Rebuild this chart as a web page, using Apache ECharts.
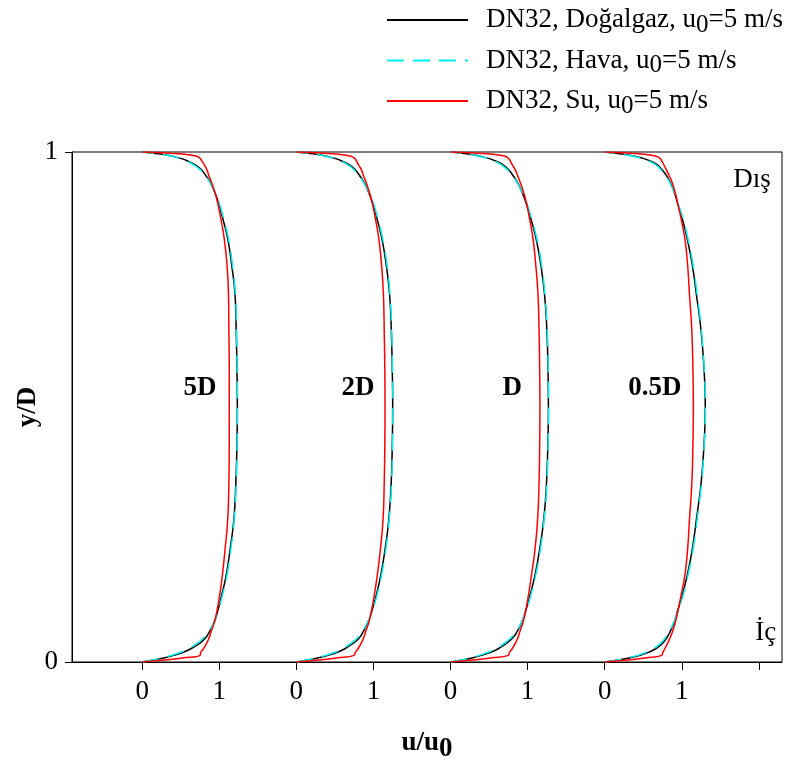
<!DOCTYPE html>
<html>
<head>
<meta charset="utf-8">
<script src="https://cdn.jsdelivr.net/npm/echarts@6/dist/echarts.min.js"></script>
<style>
html, body { margin: 0; padding: 0; background: #fff; }
#chart { width: 798px; height: 765px; }
</style>
</head>
<body>
<div id="chart"></div>
<script>
// y/D levels shared by every profile
var yLevels = [0, 0.004, 0.008, 0.013, 0.019, 0.026, 0.035, 0.046, 0.06, 0.08, 0.1, 0.13, 0.17, 0.22, 0.28, 0.35, 0.43, 0.5,
               0.57, 0.65, 0.72, 0.78, 0.83, 0.87, 0.9, 0.92, 0.94, 0.954, 0.965, 0.974, 0.981, 0.987, 0.992, 0.996, 1];

// stations and where each profile starts on the u/u0 axis
var stations = ['5D', '2D', 'D', '0.5D'];
var offsets = [0, 2, 4, 6];

// u/u0 at 5D
var gas5D   = [0, 0.15, 0.28, 0.41, 0.535, 0.63, 0.73, 0.815, 0.875, 0.94, 0.98, 1.03, 1.09, 1.14, 1.19, 1.215, 1.23, 1.235,
               1.23, 1.22, 1.205, 1.16, 1.11, 1.045, 0.99, 0.945, 0.885, 0.825, 0.77, 0.70, 0.61, 0.51, 0.38, 0.24, 0];
var air5D   = [0, 0.14, 0.26, 0.38, 0.50, 0.60, 0.70, 0.79, 0.865, 0.935, 0.985, 1.04, 1.10, 1.15, 1.195, 1.22, 1.232, 1.236,
               1.232, 1.225, 1.21, 1.17, 1.12, 1.055, 1.0, 0.95, 0.88, 0.815, 0.755, 0.68, 0.59, 0.49, 0.37, 0.23, 0];
var water5D = [0, 0.30, 0.52, 0.75, 0.76, 0.795, 0.83, 0.865, 0.895, 0.94, 0.97, 1.005, 1.04, 1.075, 1.11, 1.125, 1.13, 1.13,
               1.13, 1.125, 1.12, 1.10, 1.065, 1.02, 0.98, 0.945, 0.90, 0.865, 0.84, 0.81, 0.78, 0.755, 0.70, 0.52, 0];

// u/u0 at 2D
var gas2D   = [0, 0.15, 0.28, 0.41, 0.53, 0.63, 0.72, 0.81, 0.87, 0.935, 0.98, 1.035, 1.095, 1.15, 1.2, 1.23, 1.245, 1.25,
               1.245, 1.232, 1.21, 1.165, 1.11, 1.045, 0.99, 0.94, 0.88, 0.82, 0.765, 0.70, 0.61, 0.51, 0.38, 0.24, 0];
var air2D   = [0, 0.14, 0.26, 0.38, 0.50, 0.60, 0.695, 0.785, 0.86, 0.93, 0.985, 1.045, 1.105, 1.16, 1.205, 1.235, 1.247, 1.252,
               1.247, 1.237, 1.215, 1.175, 1.12, 1.055, 1.0, 0.945, 0.875, 0.81, 0.75, 0.68, 0.59, 0.49, 0.37, 0.23, 0];
var water2D = [0, 0.30, 0.52, 0.75, 0.765, 0.80, 0.835, 0.87, 0.90, 0.945, 0.975, 1.01, 1.05, 1.09, 1.125, 1.14, 1.148, 1.15,
               1.148, 1.14, 1.13, 1.105, 1.07, 1.025, 0.985, 0.95, 0.905, 0.87, 0.845, 0.81, 0.785, 0.76, 0.70, 0.52, 0];

// u/u0 at D
var gasD    = [0, 0.15, 0.28, 0.40, 0.52, 0.62, 0.71, 0.80, 0.865, 0.93, 0.975, 1.03, 1.095, 1.155, 1.21, 1.245, 1.263, 1.27,
               1.265, 1.25, 1.22, 1.17, 1.11, 1.04, 0.98, 0.93, 0.87, 0.81, 0.755, 0.69, 0.605, 0.505, 0.375, 0.235, 0];
var airD    = [0, 0.14, 0.26, 0.37, 0.49, 0.59, 0.685, 0.775, 0.855, 0.925, 0.98, 1.04, 1.105, 1.165, 1.215, 1.25, 1.266, 1.272,
               1.268, 1.255, 1.225, 1.18, 1.12, 1.05, 0.99, 0.935, 0.865, 0.80, 0.74, 0.67, 0.585, 0.485, 0.365, 0.225, 0];
var waterD  = [0, 0.30, 0.52, 0.75, 0.765, 0.80, 0.835, 0.87, 0.90, 0.945, 0.975, 1.01, 1.05, 1.095, 1.13, 1.148, 1.157, 1.16,
               1.157, 1.148, 1.135, 1.105, 1.07, 1.025, 0.985, 0.95, 0.905, 0.87, 0.84, 0.805, 0.78, 0.755, 0.70, 0.52, 0];

// u/u0 at 0.5D
var gas05D   = [0, 0.18, 0.32, 0.46, 0.57, 0.66, 0.74, 0.80, 0.85, 0.905, 0.945, 1.005, 1.07, 1.135, 1.19, 1.25, 1.29, 1.305,
                1.29, 1.25, 1.19, 1.135, 1.07, 1.005, 0.945, 0.905, 0.85, 0.80, 0.745, 0.69, 0.61, 0.51, 0.37, 0.22, 0];
var air05D   = [0, 0.17, 0.30, 0.43, 0.54, 0.63, 0.715, 0.78, 0.84, 0.90, 0.95, 1.015, 1.08, 1.145, 1.2, 1.255, 1.292, 1.307,
                1.292, 1.255, 1.2, 1.145, 1.08, 1.015, 0.95, 0.905, 0.845, 0.79, 0.73, 0.67, 0.59, 0.49, 0.36, 0.21, 0];
var water05D = [0, 0.30, 0.52, 0.74, 0.755, 0.78, 0.81, 0.845, 0.88, 0.92, 0.95, 0.99, 1.04, 1.075, 1.10, 1.13, 1.145, 1.15,
                1.145, 1.13, 1.10, 1.075, 1.04, 0.99, 0.945, 0.915, 0.875, 0.835, 0.80, 0.77, 0.745, 0.72, 0.66, 0.48, 0];

var gasProfiles = [gas5D, gas2D, gasD, gas05D];
var airProfiles = [air5D, air2D, airD, air05D];
var waterProfiles = [water5D, water2D, waterD, water05D];

var xTicks = [0, 1, 2, 3, 4, 5, 6, 7, 8];
var xLabels = [0, 1, 2, 3, 4, 5, 6, 7];

// text annotations, in data coordinates
var stationLabelX = [0.75, 2.80, 4.80, 6.65];
var stationLabelY = 0.537;
var sideLabels = [
    {text: 'Dış', x: 7.91, y: 0.945},
    {text: 'İç', x: 8.09, y: 0.057}
];

var FONT = '"Liberation Serif", "Times New Roman", serif';
var NAME_GAS = 'DN32, Doğalgaz, u0=5 m/s';
var NAME_AIR = 'DN32, Hava, u0=5 m/s';
var NAME_WATER = 'DN32, Su, u0=5 m/s';

var toPoints = function (u, offset) {
    var res = [];
    for (var i = 0; i < yLevels.length; i++) {
        res.push([offset + u[i], yLevels[i]]);
    }
    return res;
};

var makeSeries = function (name, profiles, color, type) {
    var list = [];
    for (var s = 0; s < stations.length; s++) {
        list.push({
            name: name,
            type: 'line',
            data: toPoints(profiles[s], offsets[s]),
            symbol: 'none',
            smooth: 0.5,
            lineStyle: {color: color, width: 1.5, type: type},
            itemStyle: {color: color}
        });
    }
    return list;
};

var chart = echarts.init(document.getElementById('chart'));

var series = []
    .concat(makeSeries(NAME_GAS, gasProfiles, '#000000', 'solid'))
    .concat(makeSeries(NAME_AIR, airProfiles, '#00f0f0', [17, 9]))
    .concat(makeSeries(NAME_WATER, waterProfiles, '#ff0000', 'solid'));

var option = {
    animation: false,
    backgroundColor: '#fff',
    grid: {
        left: 72, right: 16, top: 152, bottom: 103,
        outerBoundsMode: 'none',
        containLabel: false,
        show: true, borderColor: '#000', borderWidth: 1
    },
    legend: {
        data: [NAME_GAS, NAME_AIR, NAME_WATER],
        orient: 'vertical',
        left: 386,
        top: 5,
        padding: 0,
        itemWidth: 81,
        itemHeight: 14,
        itemGap: 8,
        itemStyle: {opacity: 0},
        formatter: function (name) {
            return name.replace('u0', 'u{sub|0}');
        },
        textStyle: {
            fontFamily: FONT,
            fontSize: 27,
            color: '#000',
            lineHeight: 30,
            padding: [0, 0, 0, 13],
            rich: {
                sub: {fontFamily: FONT, fontSize: 25, color: '#000', padding: [10, 0, 0, 0]}
            }
        }
    },
    xAxis: {
        type: 'value',
        min: -0.91,
        max: 8.3,
        name: 'u/u{sub|0}',
        nameLocation: 'middle',
        nameGap: 62,
        nameTextStyle: {
            fontFamily: FONT, fontSize: 27, fontWeight: 'bold', color: '#000',
            rich: {sub: {fontFamily: FONT, fontSize: 27, fontWeight: 'bold', color: '#000', padding: [12, 0, 0, 0]}}
        },
        axisLine: {onZero: false, lineStyle: {color: '#000', width: 1}},
        axisTick: {show: true, length: 8, inside: false, customValues: xTicks, lineStyle: {color: '#000'}},
        axisLabel: {
            customValues: xLabels,
            margin: 16,
            fontFamily: FONT, fontSize: 27, color: '#000',
            formatter: function (v) { return String(v % 2); }
        },
        splitLine: {show: false}
    },
    yAxis: {
        type: 'value',
        min: 0,
        max: 1,
        interval: 1,
        name: 'y/D',
        nameLocation: 'middle',
        nameGap: 30,
        nameMoveOverlap: false,
        nameTextStyle: {fontFamily: FONT, fontSize: 27, fontWeight: 'bold', color: '#000'},
        axisLine: {onZero: false, lineStyle: {color: '#000', width: 1}},
        axisTick: {show: true, length: 7, lineStyle: {color: '#000'}},
        axisLabel: {margin: 14, fontFamily: FONT, fontSize: 27, color: '#000'},
        splitLine: {show: false}
    },
    series: series
};

chart.setOption(option);

// place the station and side texts from data coordinates
var graphics = [];
for (var i = 0; i < stations.length; i++) {
    var p = chart.convertToPixel({gridIndex: 0}, [stationLabelX[i], stationLabelY]);
    graphics.push({
        type: 'text', x: p[0], y: p[1], silent: true,
        style: {text: stations[i], fontFamily: FONT, fontSize: 27, fontWeight: 'bold', fill: '#000',
                align: 'center', verticalAlign: 'middle', textAlign: 'center', textVerticalAlign: 'middle'}
    });
}
for (var j = 0; j < sideLabels.length; j++) {
    var q = chart.convertToPixel({gridIndex: 0}, [sideLabels[j].x, sideLabels[j].y]);
    graphics.push({
        type: 'text', x: q[0], y: q[1], silent: true,
        style: {text: sideLabels[j].text, fontFamily: FONT, fontSize: 27, fill: '#000',
                align: 'center', verticalAlign: 'middle', textAlign: 'center', textVerticalAlign: 'middle'}
    });
}
chart.setOption({graphic: graphics});
</script>
</body>
</html>
